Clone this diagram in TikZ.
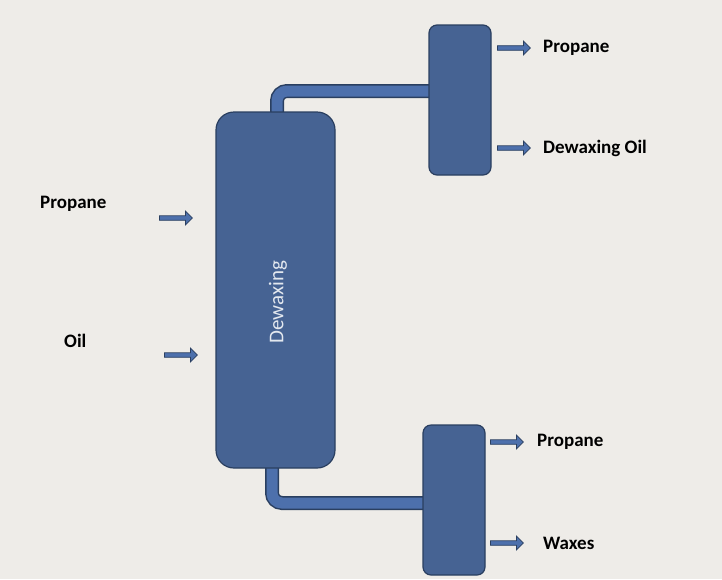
\documentclass[tikz,border=0pt]{standalone}
\usepackage{fontspec}
\setmainfont{Carlito}
\usetikzlibrary{shapes.arrows}
\definecolor{bg}{HTML}{EEECE8}
\definecolor{vfill}{HTML}{466393}
\definecolor{vline}{HTML}{2A3F60}
\definecolor{pfill}{HTML}{4D70AC}
\tikzset{
 vessel/.style={draw=vline,fill=vfill,line width=1.2pt,rounded corners=#1},
 lab/.style={font=\bfseries\fontsize{19}{22}\selectfont,anchor=west,inner sep=0},
 barrow/.style={single arrow,draw=vline,fill=pfill,line width=0.8pt,minimum height=33pt,minimum width=14pt,single arrow head extend=4pt,inner sep=1.5pt,anchor=west}
}
\begin{document}
\begin{tikzpicture}[x=1pt,y=-1pt]
\fill[bg] (0,0) rectangle (722,579);
\useasboundingbox (0,0) rectangle (722,579);
% pipes
\coordinate (ta) at (277,115);
\coordinate (tb) at (432,91);
\coordinate (ba) at (272,465);
\coordinate (bb) at (426,503);
\draw[vline,line width=14pt,rounded corners=10pt] (ta) |- (tb);
\draw[pfill,line width=11pt,rounded corners=10pt] (ta) |- (tb);
\draw[vline,line width=14pt,rounded corners=10pt] (ba) |- (bb);
\draw[pfill,line width=11pt,rounded corners=10pt] (ba) |- (bb);
% vessels
\draw[vessel=18pt] (216,112) rectangle (335,468);
\node[text=white!85!vfill,rotate=90,font=\fontsize{21}{24}\selectfont] (dw) at (278,302) {Dewaxing};
\draw[vessel=8pt] (429,25) rectangle (491,175);
\draw[vessel=8pt] (423,425) rectangle (485,575);
% arrows
\node[barrow] (a1) at (159,218) {};
\node[barrow] (a2) at (164,355) {};
\node[barrow] (a3) at (497,48) {};
\node[barrow] (a4) at (497,148) {};
\node[barrow] (a5) at (490,442) {};
\node[barrow] (a6) at (490,543) {};
% labels
\node[lab] (l1) at (40,204) {Propane};
\node[lab] (l2) at (64,341) {Oil};
\node[lab] (l3) at (543,48) {Propane};
\node[lab] (l4) at (543,148) {Dewaxing Oil};
\node[lab] (l5) at (537,442) {Propane};
\node[lab] (l6) at (543,543) {Waxes};
\end{tikzpicture}
\end{document}
